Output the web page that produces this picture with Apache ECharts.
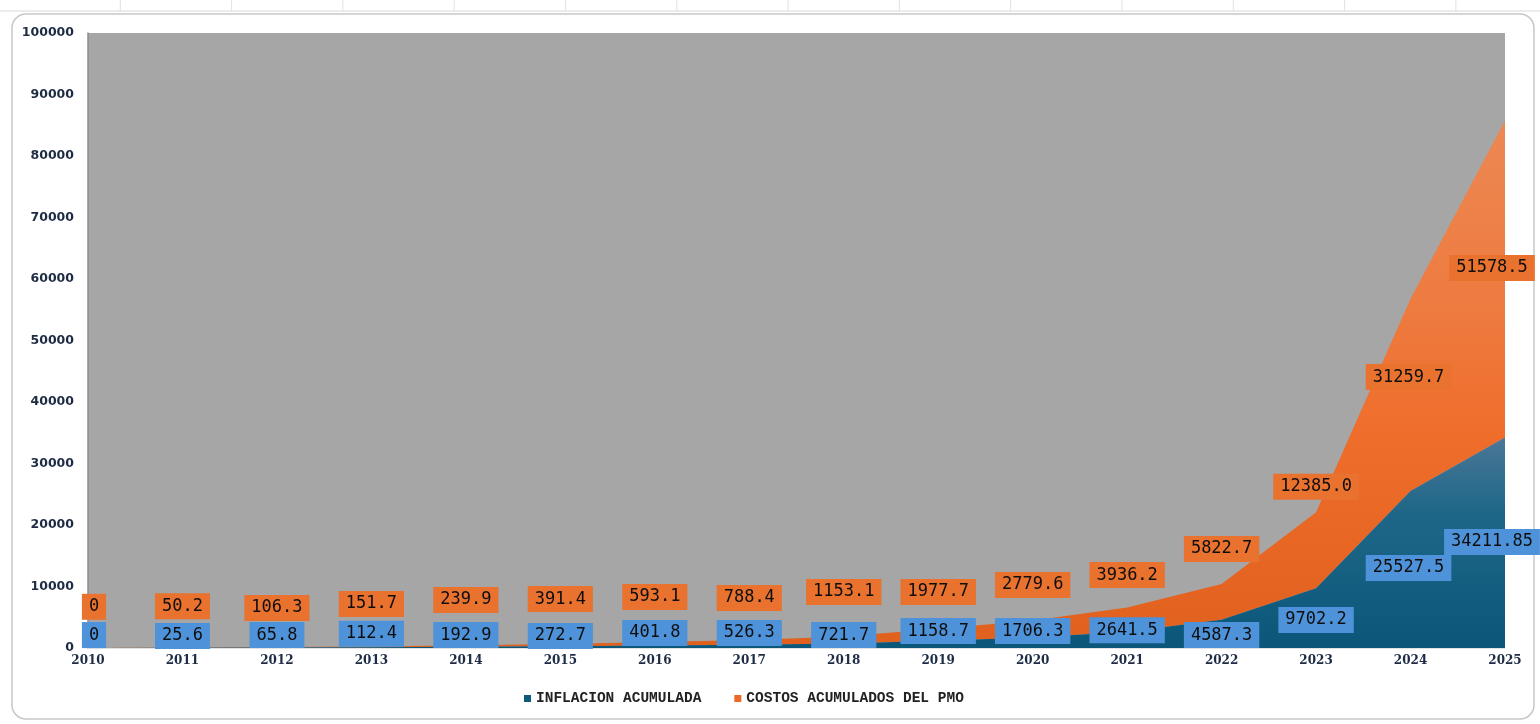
<!DOCTYPE html>
<html>
<head>
<meta charset="utf-8">
<script src="https://cdn.jsdelivr.net/npm/echarts@6/dist/echarts.min.js"></script>
<style>
html,body{margin:0;padding:0;background:#ffffff;}
#c{width:1540px;height:724px;}
</style>
</head>
<body>
<div id="c"></div>
<script>
// ---- data ----
const years = ['2010','2011','2012','2013','2014','2015','2016','2017','2018','2019','2020','2021','2022','2023','2024','2025'];
const inflacion = [0, 25.6, 65.8, 112.4, 192.9, 272.7, 401.8, 526.3, 721.7, 1158.7, 1706.3, 2641.5, 4587.3, 9702.2, 25527.5, 34211.85];
const costos = [0, 50.2, 106.3, 151.7, 239.9, 391.4, 593.1, 788.4, 1153.1, 1977.7, 2779.6, 3936.2, 5822.7, 12385.0, 31259.7, 51578.5];
const seriesNames = ['INFLACION ACUMULADA', 'COSTOS ACUMULADOS DEL PMO'];

// ---- label placement (styling only: level on value axis where each data label sits) ----
const blueLabelLevel = [2100, 1950, 2100, 2300, 2100, 1950, 2450, 2450, 2100, 2750, 2750, 2900, 2100, 4550, 13000, 17250];
const orangeLabelLevel = [6700, 6800, 6500, 7150, 7800, 7950, 8300, 8150, 9100, 9100, 10250, 11850, 16100, 26200, 44050, 61800];
const labelShiftX = [6, 0, 0, 0, 0, 0, 0, 0, 0, 0, 0, 0, 0, 0, -2, -13];

const chart = echarts.init(document.getElementById('c'), null, {renderer: 'canvas'});

const labelBase = {
  show: true,
  position: 'inside',
  fontFamily: 'DejaVu Sans Mono',
  fontSize: 17,
  color: '#0E0E0E',
  padding: [4, 7, 2, 7],
  lineHeight: 20
};

const blueGrad = new echarts.graphic.LinearGradient(0, 0, 0, 1, [
  {offset: 0, color: '#4B7797'},
  {offset: 0.35, color: '#1F6788'},
  {offset: 1, color: '#0A577A'}
]);
const orangeGrad = new echarts.graphic.LinearGradient(0, 0, 0, 1, [
  {offset: 0, color: '#EC8853'},
  {offset: 0.35, color: '#EE7B40'},
  {offset: 0.6, color: '#EF6D2B'},
  {offset: 1, color: '#E0601E'}
]);

const topGridLines = [];
topGridLines.push({type: 'line', shape: {x1: 0, y1: 11, x2: 1540, y2: 11}, style: {stroke: '#D9D9D9', lineWidth: 1}, silent: true});
for (let k = 1; k <= 13; k++) {
  const x = 9 + 111.3 * k;
  topGridLines.push({type: 'line', shape: {x1: x, y1: 0, x2: x, y2: 12}, style: {stroke: '#E2E2E2', lineWidth: 1}, silent: true});
}

const option = {
  animation: false,
  backgroundColor: '#ffffff',
  graphic: topGridLines.concat([
    {
      type: 'rect',
      shape: {x: 12, y: 14, width: 1522, height: 705, r: 14},
      style: {fill: 'rgba(0,0,0,0)', stroke: '#C8C8C8', lineWidth: 1.5},
      silent: true,
      z: -1
    }
  ]),
  grid: {left: 88, right: 35, top: 33, bottom: 76, show: true, backgroundColor: '#A6A6A6', borderWidth: 0},
  legend: {
    left: 519,
    top: 686,
    itemWidth: 7,
    itemHeight: 7,
    itemGap: 33,
    icon: 'rect',
    textStyle: {fontFamily: 'Liberation Mono', fontWeight: 'bold', fontSize: 14.5, color: '#222222'},
    data: [
      {name: seriesNames[0], itemStyle: {color: '#0E5A7C', opacity: 1}},
      {name: seriesNames[1], itemStyle: {color: '#EB6A2A', opacity: 1}}
    ]
  },
  xAxis: {
    type: 'category',
    data: years,
    boundaryGap: false,
    axisLine: {show: true, lineStyle: {color: '#E2E2E2', width: 1}},
    axisTick: {show: false},
    splitLine: {show: false},
    axisLabel: {
      margin: 7,
      fontFamily: 'DejaVu Serif',
      fontWeight: 'bold',
      fontSize: 12,
      color: '#1D2B45',
      interval: 0
    }
  },
  yAxis: {
    type: 'value',
    min: 0,
    max: 100000,
    interval: 10000,
    axisLine: {show: true, lineStyle: {color: '#8C8C8C', width: 1.5}},
    axisTick: {show: false},
    splitLine: {show: false},
    axisLabel: {
      margin: 14,
      fontFamily: 'DejaVu Sans',
      fontWeight: 'bold',
      fontSize: 12.5,
      color: '#1D2B45',
      formatter: v => String(v)
    }
  },
  series: [
    {
      name: seriesNames[0],
      type: 'line',
      stack: 'total',
      data: inflacion,
      symbol: 'circle',
      symbolSize: 1,
      showSymbol: true,
      showAllSymbol: true,
      itemStyle: {color: 'rgba(0,0,0,0)'},
      lineStyle: {width: 0},
      areaStyle: {color: blueGrad, opacity: 1},
      emphasis: {disabled: true},
      z: 3,
      label: Object.assign({}, labelBase, {
        backgroundColor: '#4E93D9',
        formatter: p => (p.value === 0 ? '0' : String(p.value))
      })
    },
    {
      name: seriesNames[1],
      type: 'line',
      stack: 'total',
      data: costos,
      symbol: 'circle',
      symbolSize: 1,
      showSymbol: true,
      showAllSymbol: true,
      itemStyle: {color: 'rgba(0,0,0,0)'},
      lineStyle: {width: 0},
      areaStyle: {color: orangeGrad, opacity: 1},
      emphasis: {disabled: true},
      z: 2,
      label: Object.assign({}, labelBase, {
        backgroundColor: '#E9722F',
        formatter: p => (p.value === 0 ? '0' : Number(p.value).toFixed(1))
      })
    }
  ]
};

chart.setOption(option);

// place labels: convert levels to pixel offsets relative to each (stacked) point
function offsetsFor(tops, levels) {
  return tops.map((t, i) => {
    const a = chart.convertToPixel({gridIndex: 0}, [years[i], t]);
    const b = chart.convertToPixel({gridIndex: 0}, [years[i], levels[i]]);
    return [labelShiftX[i], b[1] - a[1]];
  });
}
const blueTops = inflacion.slice();
const orangeTops = inflacion.map((v, i) => v + costos[i]);
const blueOff = offsetsFor(blueTops, blueLabelLevel);
const orangeOff = offsetsFor(orangeTops, orangeLabelLevel);

chart.setOption({
  series: [
    {data: inflacion.map((v, i) => ({value: v, label: {offset: blueOff[i]}}))},
    {data: costos.map((v, i) => ({value: v, label: {offset: orangeOff[i]}}))}
  ]
});
</script>
</body>
</html>
